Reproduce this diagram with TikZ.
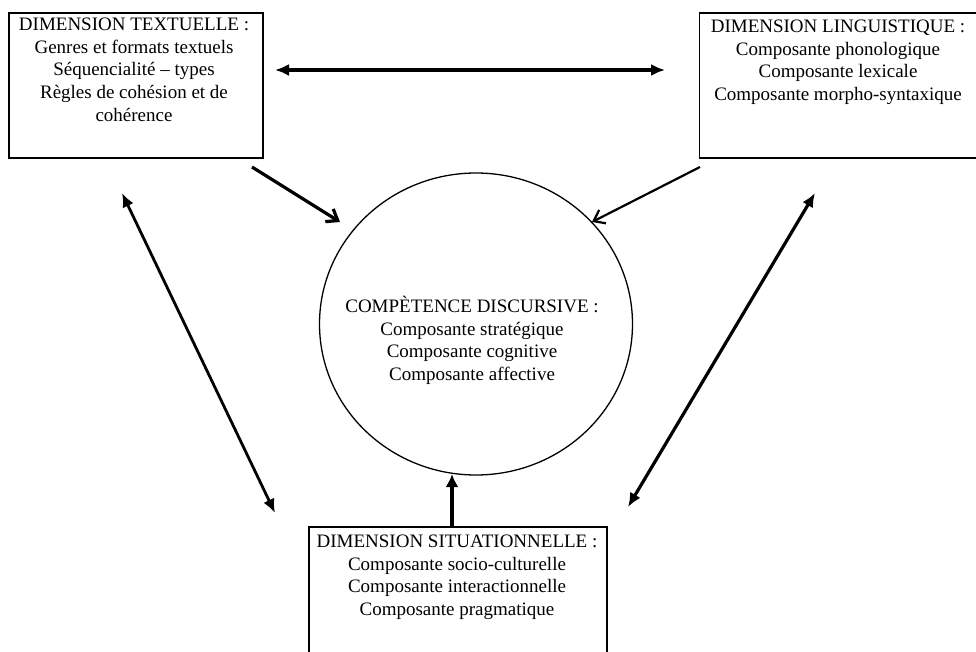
\documentclass[tikz,border=0pt]{standalone}
\usepackage{fontspec}
\setmainfont{Liberation Serif}
\usetikzlibrary{arrows.meta,shapes.geometric}
\begin{document}
\begin{tikzpicture}[x=1pt,y=-1pt,
  boxnode/.style={draw=black,line width=1.8pt,rectangle,inner sep=0pt},
  txt/.style={align=center,inner sep=0pt,anchor=north,font=\fontsize{19}{22.6}\selectfont},
  dbl/.style={{Latex[length=14pt,width=12pt]}-{Latex[length=14pt,width=12pt]}},
  barb/.style={-{Straight Barb[length=10pt,width=15pt]}}]
\useasboundingbox (0,0) rectangle (976,652);
\clip (0,0) rectangle (976,652);
% boxes
\node[boxnode,minimum width=254pt,minimum height=145pt] (tl) at (136,85.5) {};
\node[boxnode,minimum width=285pt,minimum height=145pt] (tr) at (842,85.5) {};
\node[boxnode,minimum width=298pt,minimum height=140pt] (bt) at (458,597) {};
\node[draw=black,line width=1.3pt,ellipse,inner sep=0pt,minimum width=313pt,minimum height=302pt] (circ) at (476,324) {};
% texts
\node[txt] (tltext) at (134,18) {DIMENSION TEXTUELLE :\\Genres et formats textuels\\Séquencialité – types\\Règles de cohésion et de\\cohérence};
\node[txt] (trtext) at (838,20) {DIMENSION LINGUISTIQUE :\\Composante phonologique\\Composante lexicale\\Composante morpho-syntaxique};
\node[txt] (bttext) at (457,535) {DIMENSION SITUATIONNELLE :\\Composante socio-culturelle\\Composante interactionnelle\\Composante pragmatique};
\node[txt] (ctext) at (472,296) {COMPÈTENCE DISCURSIVE :\\Composante stratégique\\Composante cognitive\\Composante affective};
% connector ends
\coordinate (h1) at (275,70);
\coordinate (h2) at (665,70);
\coordinate (a1) at (252,167);
\coordinate (a2) at (340,222);
\coordinate (b1) at (700,167);
\coordinate (b2) at (592,222);
\coordinate (l1) at (122,193);
\coordinate (l2) at (275,513);
\coordinate (r1) at (815,193);
\coordinate (r2) at (628,507);
\coordinate (u1) at (452,527);
\coordinate (u2) at (452,474);
% connectors
\draw[dbl,line width=3.2pt] (h1) -- (h2);
\draw[barb,line width=3.2pt] (a1) -- (a2);
\draw[barb,line width=2.2pt] (b1) -- (b2);
\draw[dbl,line width=2.8pt] (l1) -- (l2);
\draw[dbl,line width=3.2pt] (r1) -- (r2);
\draw[-{Latex[length=13pt,width=13pt]},line width=4.5pt] (u1) -- (u2);
\end{tikzpicture}
\end{document}
